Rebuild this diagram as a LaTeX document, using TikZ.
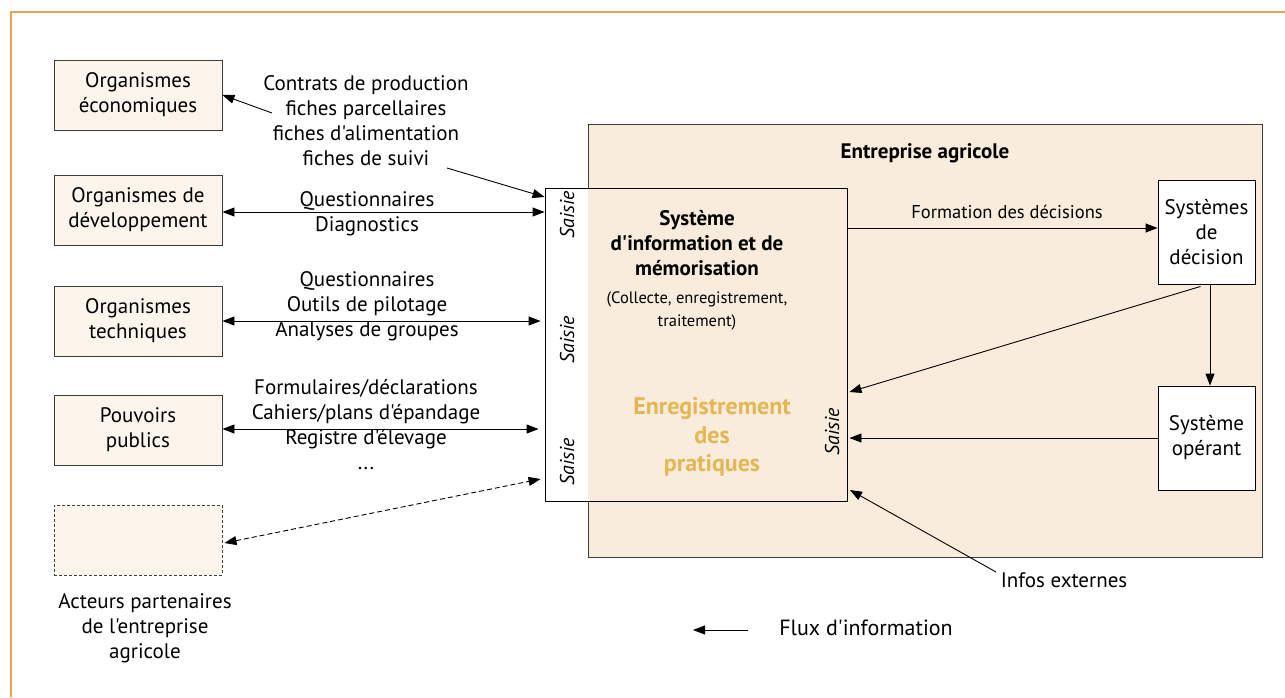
\documentclass[tikz,border=0pt]{standalone}
\usepackage{fontspec}
\newfontfamily\ptsans{PT Sans}
\usetikzlibrary{arrows.meta,calc}
\definecolor{frameorange}{RGB}{232,166,76}
\definecolor{bigfill}{RGB}{249,236,220}
\definecolor{boxfill}{RGB}{252,245,236}
\definecolor{gold}{RGB}{226,183,84}
\definecolor{edge}{RGB}{60,60,60}
\tikzset{
  arr/.style={-{Triangle[length=12pt,width=9pt]},line width=0.9pt},
  dblarr/.style={{Triangle[length=12pt,width=9pt]}-{Triangle[length=12pt,width=9pt]},line width=0.9pt},
  actor/.style={draw=edge,fill=boxfill,line width=0.9pt,minimum width=168pt,minimum height=70pt,align=center,inner sep=0pt,font=\ptsans\fontsize{21}{25}\selectfont},
  sysbox/.style={draw=black,fill=white,line width=0.9pt,minimum width=97pt,minimum height=104pt,align=center,inner sep=0pt,font=\ptsans\fontsize{21}{25}\selectfont},
  lbl/.style={align=center,inner sep=0pt,font=\ptsans\fontsize{21}{25}\selectfont},
  small/.style={align=center,inner sep=0pt,font=\ptsans\fontsize{16.5}{23}\selectfont},
  saisie/.style={rotate=90,inner sep=0pt,font=\ptsans\fontsize{20}{25}\selectfont\itshape}
}
\begin{document}
\begin{tikzpicture}[x=1pt,y=-1pt]
\useasboundingbox (0,0) rectangle (1285,697);
\draw[frameorange,line width=1.8pt] (11,697) -- (11,12) -- (1285,12);

% left actor boxes
\node[actor] (eco) at (138,95) {Organismes\\économiques};
\node[actor] (dev) at (138,210) {Organismes de\\développement};
\node[actor] (tech) at (138,321) {Organismes\\techniques};
\node[actor] (pub) at (138,430) {Pouvoirs\\publics};
\node[actor,draw=black!75,line width=1pt,dash pattern=on 3pt off 2pt] (part) at (138,540) {};
\node[lbl] (partlbl) at (145,628) {Acteurs partenaires\\de l'entreprise\\agricole};

% enterprise
\node[draw=edge,fill=bigfill,line width=0.9pt,minimum width=674pt,minimum height=433pt,inner sep=0pt] (big) at (925,340.5) {};
\node[font=\ptsans\fontsize{21}{25}\selectfont\bfseries,inner sep=0pt] (bigtitle) at (925,153) {Entreprise agricole};

% inner system box
\fill[white] (545,188) rectangle (588,501);
\fill[bigfill] (588,188) rectangle (847,501);
\node[draw=black,line width=0.9pt,minimum width=302pt,minimum height=313pt,inner sep=0pt] (inner) at (696,344.5) {};
\node[lbl,font=\ptsans\fontsize{21}{25}\selectfont\bfseries] (sititle) at (697,243) {Système\\d'information et de\\mémorisation};
\node[small] (sisub) at (697,311) {(Collecte, enregistrement,\\traitement)};
\node[lbl,font=\ptsans\fontsize{24}{28.5}\selectfont\bfseries,text=gold] (enreg) at (712,437) {Enregistrement\\des\\pratiques};

\node[saisie] (s1) at (567,215) {Saisie};
\node[saisie] (s2) at (567,340) {Saisie};
\node[saisie] (s3) at (567,462) {Saisie};
\node[saisie] (s4) at (832,432) {Saisie};

% decision / operating systems
\node[sysbox] (dec) at (1206.5,232) {Systèmes\\de\\décision};
\node[sysbox] (op) at (1206.5,438) {Système\\opérant};

% helper coordinates
\coordinate (y197) at (0,197);
\coordinate (y212) at (0,212);
\coordinate (y321) at (0,321);
\coordinate (y429) at (0,429);
\coordinate (y479) at (0,479);
\coordinate (y228) at (0,228);
\coordinate (y392) at (0,392);
\coordinate (x1210) at (1210,0);
\coordinate (c1) at (272,113);
\coordinate (c2) at (447,168);
\coordinate (c3) at (996,572);
\coordinate (c4) at (850,490);

% left arrows and labels
\node[lbl] (g1) at (366,120.5) {Contrats de production\\fiches parcellaires\\fiches d'alimentation\\fiches de suivi};
\draw[arr] (c1) -- (eco.east);
\draw[arr] (c2) -- (inner.west |- y197);

\node[lbl] (g2) at (367,214) {Questionnaires\\Diagnostics};
\draw[dblarr] (dev.east |- y212) -- (inner.west |- y212);

\node[lbl] (g3) at (367,306) {Questionnaires\\Outils de pilotage\\Analyses de groupes};
\draw[dblarr] (tech.east |- y321) -- ($(inner.west |- y321)+(-4,0)$);

\node[lbl] (g4) at (366,425) {Formulaires/déclarations\\Cahiers/plans d'épandage\\Registre d'élevage\\...};
\draw[dblarr] (pub.east |- y429) -- ($(inner.west |- y429)+(-6,0)$);

\draw[dblarr,dash pattern=on 5pt off 3pt,line width=0.9pt] ($(part.east)+(2,3)$) -- ($(inner.west |- y479)+(-4,0)$);

% right side arrows
\node[small,font=\ptsans\fontsize{18.5}{23}\selectfont] (form) at (1007,212) {Formation des décisions};
\draw[arr] (inner.east |- y228) -- (dec.west |- y228);
\draw[arr] ($(dec.south)+(-6,2)$) -- ($(inner.east |- y392)+(2,0)$);
\draw[arr] (dec.south -| x1210) -- (op.north -| x1210);
\draw[arr] (op.west) -- ($(inner.east |- op.west)+(2,0)$);

\node[lbl] (infos) at (1064,580) {Infos externes};
\draw[arr] (c3) -- (c4);

% legend
\coordinate (l1) at (748,630);
\coordinate (l2) at (693,630);
\draw[arr] (l1) -- (l2);
\node[lbl,font=\ptsans\fontsize{22}{25}\selectfont] (flux) at (866,628) {Flux d'information};
\end{tikzpicture}
\end{document}
